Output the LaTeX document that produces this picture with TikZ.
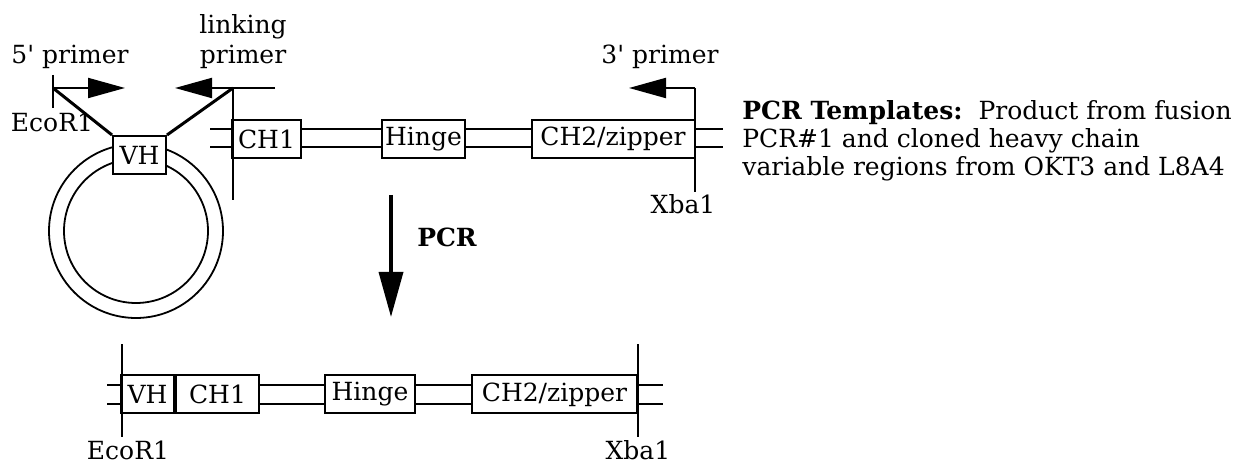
\documentclass[tikz,border=0pt]{standalone}
\usepackage{fontspec}
\setmainfont{DejaVu Serif}
\usepackage{tikz}
\usetikzlibrary{arrows.meta, positioning, calc}

\begin{document}
\begin{tikzpicture}[
  x=0.5pt, y=-0.5pt,
  font=\fontsize{12.5}{15}\selectfont,
  seg/.style={draw, line width=1pt, fill=white, inner sep=0pt, minimum height=19pt},
  rail/.style={line width=1pt},
  site/.style={line width=1pt},
  ring/.style={line width=0.9pt},
  link/.style={line width=1.5pt},
  primer/.style={line width=1pt, -{Triangle[length=18.5pt, width=10pt]}},
]
  \useasboundingbox (0,0) rectangle (1238,464);

  % Plasmid ring
  \coordinate (ring) at (136,231);
  \draw[ring] (ring) circle[radius=43.5pt];
  \draw[ring] (ring) circle[radius=36pt];

  % Template segments
  \node[seg, minimum width=26.5pt] (vh)    at (139.5,155) {VH};
  \node[seg, minimum width=34.5pt] (ch1)   at (266.5,139) {CH1};
  \node[seg, minimum width=41.5pt] (hinge) at (423.5,139) {Hinge};
  \node[seg, minimum width=81.5pt] (ch2)   at (613,139)   {CH2/zipper};

  % Rails between template segments
  \foreach \y in {129,147} {
    \draw[rail] (210,\y) -- (ch1.west |- 0,\y);
    \draw[rail] (ch1.east |- 0,\y) -- (hinge.west |- 0,\y);
    \draw[rail] (hinge.east |- 0,\y) -- (ch2.west |- 0,\y);
    \draw[rail] (ch2.east |- 0,\y) -- (723,\y);
  }

  % Primer sites
  \coordinate (eco)      at (53,88);
  \coordinate (lnk)      at (233,88);
  \coordinate (xba)      at (695,88);
  \coordinate (lnkfoot)  at (233,200);
  \coordinate (xbafoot)  at (695,192);
  \coordinate (ecotop)   at (53,75);
  \coordinate (ecofoot)  at (53,108);
  \coordinate (lnkend)   at (275,88);

  \node (lblecoA) at (52,122) {EcoR1};
  \node (lblxbaA) at (683,204) {Xba1};
  \draw[site] (ecotop) -- (ecofoot);
  \draw[site] (lnk) -- (lnkfoot);
  \draw[site] (xba) -- (xbafoot);

  % Primers
  \draw[primer] (eco) -- (125,88);
  \draw[primer] (lnkend) -- (175,88);
  \draw[primer] (xba) -- (629,88);
  \draw[link] (eco) -- (vh.north west);
  \draw[link] (vh.north east) -- (lnk);
  \node (lbl5)   at (70,57)  {5\textquotesingle{} primer};
  \node[align=center] (lbllnk) at (243,42) {linking\\primer};
  \node (lbl3)   at (660,57) {3\textquotesingle{} primer};

  % PCR step
  \coordinate (pcrtop) at (391,195);
  \coordinate (pcrtip) at (391,317);
  \draw[line width=1.75pt, -{Triangle[length=22.5pt, width=12pt]}] (pcrtop) -- (pcrtip);
  \node[font=\fontsize{12.5}{15}\selectfont\bfseries] (lblpcr) at (447,237) {PCR};

  % Template note
  \node[anchor=base west, align=left, inner sep=0pt,
        font=\fontsize{12.5}{14}\selectfont] (note) at (742,176)
    {\textbf{PCR Templates:}\ \ Product from fusion\\
     PCR\#1 and cloned heavy chain\\
     variable regions from OKT3 and L8A4};

  % Product segments
  \node[seg, minimum width=26.5pt] (vhB)    at (147.5,394.5) {VH};
  \node[seg, minimum width=41.5pt, anchor=west] (chB) at (vhB.east) {CH1};
  \node[seg, minimum width=45pt]   (hingeB) at (370,394.5)   {Hinge};
  \node[seg, minimum width=82.5pt] (ch2B)   at (554.5,394.5) {CH2/zipper};

  \foreach \y in {385,404} {
    \draw[rail] (107,\y) -- (vhB.west |- 0,\y);
    \draw[rail] (chB.east |- 0,\y) -- (hingeB.west |- 0,\y);
    \draw[rail] (hingeB.east |- 0,\y) -- (ch2B.west |- 0,\y);
    \draw[rail] (ch2B.east |- 0,\y) -- (663,\y);
  }

  % Product sites
  \draw[site] ($(vhB.west)+(2,-50)$) -- ($(vhB.west)+(2,43)$);
  \draw[site] ($(ch2B.east)+(0,-50)$) -- ($(ch2B.east)+(0,43)$);
  \node (lblecoB) at (128,450) {EcoR1};
  \node (lblxbaB) at (638,450) {Xba1};
\end{tikzpicture}
\end{document}
